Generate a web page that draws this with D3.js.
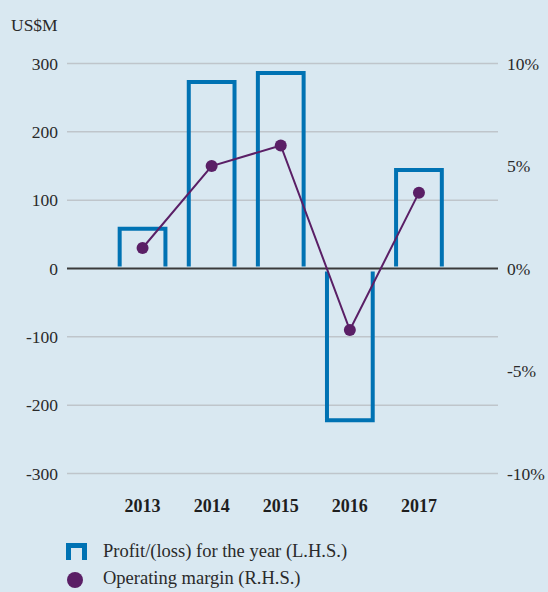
<!DOCTYPE html>
<html><head><meta charset="utf-8">
<script src="https://cdn.jsdelivr.net/npm/d3@7"></script>
<style>body{margin:0;background:#d9e8f1;} svg{display:block;} svg text{font-family:"Liberation Serif","DejaVu Serif",serif !important;}</style>
</head><body>
<svg id="c" width="548" height="592"></svg>
<script>
const years = ["2013","2014","2015","2016","2017"];
const profit = [61, 276, 289, -225, 147];
const margin = [1.0, 5.0, 6.0, -3.0, 3.7];
const leftTicks = [300, 200, 100, 0, -100, -200, -300];
const rightTicks = [10, 5, 0, -5, -10];
const legendLabels = ["Profit/(loss) for the year (L.H.S.)", "Operating margin (R.H.S.)"];

const svg = d3.select("#c");
svg.append("rect").attr("width",548).attr("height",592).attr("fill","#d9e8f1");
const yL = d3.scaleLinear().domain([-300,300]).range([473.5,63.5]);
const yR = d3.scaleLinear().domain([-10,10]).range([473.5,63.5]);
const x = d3.scaleBand().domain(years).range([108,453.5]).paddingInner(0.28).paddingOuter(0.14);
const gx0 = 67, gx1 = 498;

// grid
svg.append("g").selectAll("line").data(leftTicks.filter(d=>d!==0)).join("line")
  .attr("x1",gx0).attr("x2",gx1).attr("y1",d=>yL(d)).attr("y2",d=>yL(d))
  .attr("stroke","#bfc5cb").attr("stroke-width",1.5);

// left axis labels
const la = d3.axisLeft(yL).tickValues(leftTicks).tickSize(0).tickPadding(0).tickFormat(d=>String(d));
const gl = svg.append("g").attr("transform","translate(58,0)").call(la);
gl.select(".domain").remove();
gl.attr("font-size",null).attr("font-family",null);
gl.selectAll("text").attr("font-size",17.5).attr("fill","#2a2a2a");

const ra = d3.axisRight(yR).tickValues(rightTicks).tickSize(0).tickPadding(0).tickFormat(d=>String(d)+"%");
const gr = svg.append("g").attr("transform","translate(507,0)").call(ra);
gr.select(".domain").remove();
gr.attr("font-size",null).attr("font-family",null);
gr.selectAll("text").attr("font-size",17.5).attr("fill","#2a2a2a");

svg.append("text").attr("x",11).attr("y",31).attr("font-size",17.5).attr("fill","#2a2a2a").text("US$M");

// bars: open at zero
const sw = 4;
svg.append("g").selectAll("path").data(profit).join("path")
  .attr("d",(d,i)=>{
    const x0 = x(years[i]) + sw/2, x1 = x(years[i]) + x.bandwidth() - sw/2;
    const y0 = d>0 ? yL(0)-2 : yL(0)+3;
    const y1 = yL(d) + (d>0 ? sw/2 : -sw/2);
    return `M${x0},${y0}V${y1}H${x1}V${y0}`;
  })
  .attr("fill","none").attr("stroke","#0072b3").attr("stroke-width",sw).attr("stroke-linejoin","miter");

// zero line
svg.append("line").attr("x1",gx0).attr("x2",gx1).attr("y1",yL(0)).attr("y2",yL(0))
  .attr("stroke","#3a3a3a").attr("stroke-width",2);

// margin line
const cx = i => x(years[i]) + x.bandwidth()/2;
const line = d3.line().x((d,i)=>cx(i)).y(d=>yR(d));
svg.append("path").datum(margin).attr("d",line).attr("fill","none").attr("stroke","#5a1f66").attr("stroke-width",2);
svg.append("g").selectAll("circle").data(margin).join("circle")
  .attr("cx",(d,i)=>cx(i)).attr("cy",d=>yR(d)).attr("r",6).attr("fill","#5a1f66");

// year labels
svg.append("g").selectAll("text").data(years).join("text")
  .attr("x",d=>x(d)+x.bandwidth()/2).attr("y",512).attr("text-anchor","middle")
  .attr("font-size",18).attr("font-weight","bold").attr("fill","#1e1e1e").text(d=>d);

// legend
svg.append("path").attr("d","M68.5,560V545.5H84.5V560").attr("fill","none").attr("stroke","#0072b3").attr("stroke-width",5);
svg.append("circle").attr("cx",75).attr("cy",580).attr("r",8).attr("fill","#5a1f66");
svg.selectAll("text.leg").data(legendLabels).join("text").attr("class","leg")
  .attr("x",103).attr("y",(d,i)=>557+i*27).attr("font-size",18.5).attr("fill","#2a2a2a").text(d=>d);
</script>
</body></html>
